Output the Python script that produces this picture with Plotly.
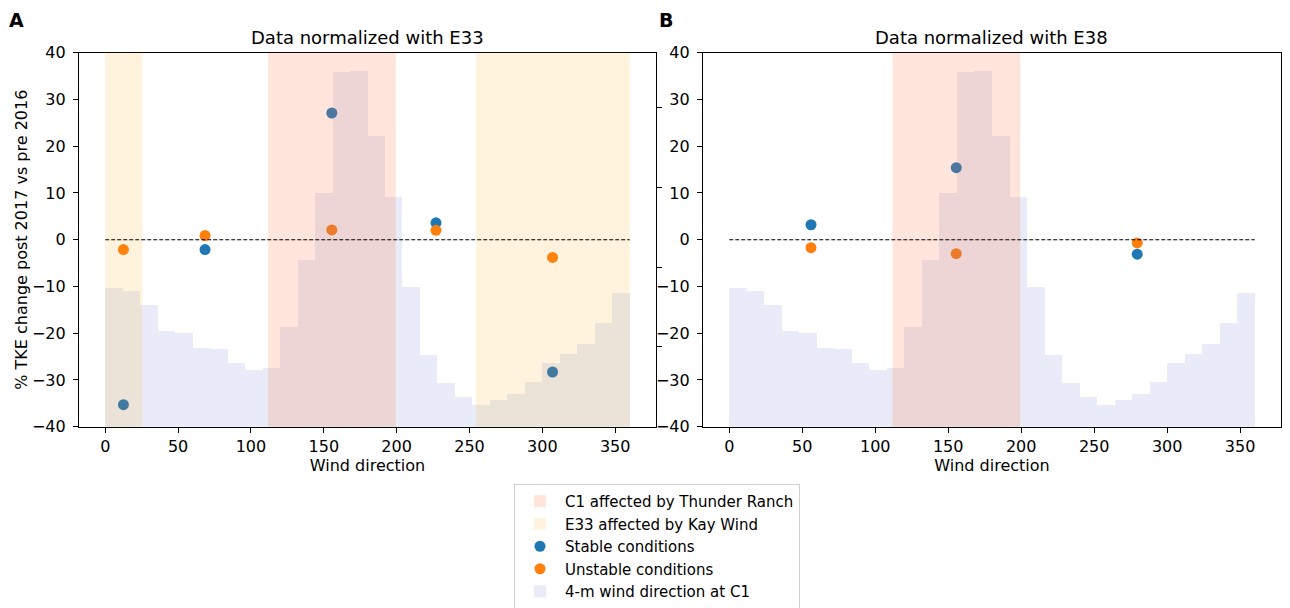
import numpy as np
import plotly.graph_objects as go

# ---------------- data ----------------
# 4-m wind direction histogram at C1 (12-degree bins, relative counts)
dir_edges = np.arange(0, 361, 12)
wind_counts = [869, 854, 767, 604, 587, 498, 492, 399, 355, 372,
               630, 1049, 1466, 2225, 2233, 1826, 1439, 876, 454, 273,
               185, 141, 167, 205, 284, 399, 460, 522, 654, 841]

# Panel A: normalized with E33
dirA = [12.5, 68.5, 155.5, 227, 307]
stableA = [-35.3, -2.1, 27.1, 3.6, -28.3]
unstableA = [-2.1, 0.9, 2.1, 2.0, -3.8]

# Panel B: normalized with E38
dirB = [56, 155.5, 279.5]
stableB = [3.2, 15.4, -3.1]
unstableB = [-1.7, -3.0, -0.7]

thunder_ranch_sector = [111.8, 199.4]
kay_wind_sectors = [[0, 25.5], [254.5, 360]]

xticks = [0, 50, 100, 150, 200, 250, 300, 350]
yticks = [-40, -30, -20, -10, 0, 10, 20, 30, 40]
twin_ticks = [500, 1000, 1500, 2000]

panel_titles = ["Data normalized with E33", "Data normalized with E38"]
panel_letters = ["A", "B"]

# ---------------- styles ----------------
C0 = "#1f77b4"
C1 = "#ff7f0e"
C1_SPAN = "rgba(255,127,80,0.2)"
C1_SPAN_LEG = "#ffe5dc"
KAY_SPAN = "rgba(255,165,0,0.13)"
KAY_SPAN_LEG = "#fff4e0"
HIST = "rgba(70,100,200,0.12)"
HIST_LEG = "#e9ecf7"
FONT = "DejaVu Sans"

W, H = 1290, 608
OFF = 8  # page offset of the plot div


def fx(sx):
    return (sx - OFF) / W


def fy(sy):
    return 1 - (sy - OFF) / H


domA = [fx(79), fx(656)]
domB = [fx(703), fx(1281)]
domY = [fy(426.7), fy(52.7)]

centers = (dir_edges[:-1] + dir_edges[1:]) / 2
widths = np.diff(dir_edges)

fig = go.Figure()

# legend-only patches for spans
fig.add_trace(go.Bar(x=[None], y=[None], marker=dict(color=C1_SPAN_LEG, line=dict(width=0)),
                     name="C1 affected by Thunder Ranch", xaxis="x", yaxis="y"))
fig.add_trace(go.Bar(x=[None], y=[None], marker=dict(color=KAY_SPAN_LEG, line=dict(width=0)),
                     name="E33 affected by Kay Wind", xaxis="x", yaxis="y"))

# scatter points
fig.add_trace(go.Scatter(x=dirA, y=stableA, mode="markers", marker=dict(color=C0, size=11),
                         name="Stable conditions", xaxis="x", yaxis="y"))
fig.add_trace(go.Scatter(x=dirA, y=unstableA, mode="markers", marker=dict(color=C1, size=11),
                         name="Unstable conditions", xaxis="x", yaxis="y"))
fig.add_trace(go.Scatter(x=dirB, y=stableB, mode="markers", marker=dict(color=C0, size=11),
                         showlegend=False, xaxis="x2", yaxis="y2"))
fig.add_trace(go.Scatter(x=dirB, y=unstableB, mode="markers", marker=dict(color=C1, size=11),
                         showlegend=False, xaxis="x2", yaxis="y2"))

# histograms on twin axes (drawn on top of the points)
fig.add_trace(go.Bar(x=centers, y=wind_counts, width=widths,
                     marker=dict(color=HIST, line=dict(width=0)),
                     showlegend=False, xaxis="x", yaxis="y3"))
fig.add_trace(go.Bar(x=centers, y=wind_counts, width=widths,
                     marker=dict(color=HIST, line=dict(width=0)),
                     showlegend=False, xaxis="x2", yaxis="y4"))
# legend entry for histogram
fig.add_trace(go.Bar(x=[None], y=[None], marker=dict(color=HIST_LEG, line=dict(width=0)),
                     name="4-m wind direction at C1", xaxis="x", yaxis="y"))

# translucent spans drawn over the data
shapes = []
for xr, yr in [("x", "y"), ("x2", "y2")]:
    shapes.append(dict(type="rect", xref=xr, yref=f"{yr} domain", x0=thunder_ranch_sector[0],
                       x1=thunder_ranch_sector[1], y0=0, y1=1, fillcolor=C1_SPAN,
                       line=dict(width=0), layer="above"))
for s in kay_wind_sectors:
    shapes.append(dict(type="rect", xref="x", yref="y domain", x0=s[0], x1=s[1], y0=0, y1=1,
                       fillcolor=KAY_SPAN, line=dict(width=0), layer="above"))
# zero reference line
for xr, yr in [("x", "y"), ("x2", "y2")]:
    shapes.append(dict(type="line", xref=xr, yref=yr, x0=dir_edges[0], x1=dir_edges[-1],
                       y0=0, y1=0, line=dict(color="black", width=1.1, dash="4px,2px"),
                       layer="above"))

hist_max = max(wind_counts) * 1.05

axis_common = dict(showline=True, linecolor="black", linewidth=1.2, mirror=True,
                   ticks="outside", ticklen=5, tickwidth=1.1, tickcolor="black",
                   showgrid=False, zeroline=False, automargin=False,
                   tickfont=dict(family=FONT, size=16, color="black"))

xcommon = dict(axis_common, range=[-18, 378], tickvals=xticks,
               title=dict(text="Wind direction", font=dict(family=FONT, size=16, color="black"),
                          standoff=2))
ycommon = dict(axis_common, range=[-40, 40], tickvals=yticks, ticklabelstandoff=4)
twin = dict(side="right", range=[0, hist_max], tickvals=twin_ticks,
            showticklabels=False, ticks="outside", ticklen=5, tickwidth=1.1, tickcolor="black",
            showline=False, showgrid=False, zeroline=False, automargin=False)

annotations = []
for dom, title in [(domA, panel_titles[0]), (domB, panel_titles[1])]:
    annotations.append(dict(text=title, xref="paper", yref="paper", x=(dom[0] + dom[1]) / 2,
                            y=fy(50), xanchor="center", yanchor="bottom", showarrow=False,
                            font=dict(family=FONT, size=18, color="black")))
for letter, sx in zip(panel_letters, [16, 666]):
    annotations.append(dict(text=f"<b>{letter}</b>", xref="paper", yref="paper", x=fx(sx),
                            y=1, xanchor="center", yanchor="top", showarrow=False,
                            borderpad=0, font=dict(family=FONT, size=19, color="black")))

fig.update_layout(
    width=W, height=H, autosize=False,
    margin=dict(l=0, r=0, t=0, b=0, autoexpand=False),
    plot_bgcolor="white", paper_bgcolor="white",
    bargap=0, barmode="overlay",
    font=dict(family=FONT, color="black"),
    xaxis=dict(xcommon, domain=domA, anchor="y"),
    yaxis=dict(ycommon, domain=domY, anchor="x",
               title=dict(text="% TKE change post 2017 vs pre 2016",
                          font=dict(family=FONT, size=16, color="black"), standoff=0)),
    xaxis2=dict(xcommon, domain=domB, anchor="y2"),
    yaxis2=dict(ycommon, domain=domY, anchor="x2"),
    yaxis3=dict(twin, overlaying="y", anchor="x"),
    yaxis4=dict(twin, overlaying="y2", anchor="x2"),
    shapes=shapes,
    annotations=annotations,
    legend=dict(x=fx(514), y=fy(484), xanchor="left", yanchor="top",
                bgcolor="white", bordercolor="#d0d0d0", borderwidth=1,
                font=dict(family=FONT, size=15, color="black"), traceorder="normal",
                itemwidth=40),
    showlegend=True,
)

fig.write_html("out.html")
